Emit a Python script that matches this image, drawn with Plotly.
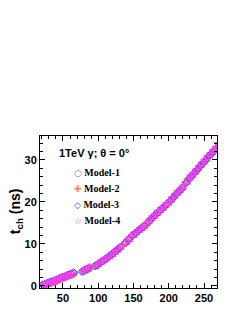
import plotly.graph_objects as go

# Model-1
m1_x = [22, 26, 30, 34, 38, 42, 46, 50, 54, 58, 62, 66, 78, 82, 86, 96, 100, 104, 108, 112, 116, 120, 124, 128, 132,
        140, 144, 150, 154, 158, 162, 166, 172, 176, 180, 184, 188, 192, 196, 204, 208, 212, 216, 220, 226, 230,
        234, 238, 242, 246, 250, 254, 258, 262, 266, 270]
m1_y = [0.2, 0.4, 0.6, 0.9, 1.1, 1.4, 1.7, 1.9, 2.2, 2.5, 2.8, 3.0, 3.5, 3.9, 4.2, 4.8, 5.2, 5.7, 6.2, 6.6, 7.1, 7.6,
        8.2, 8.8, 9.3, 10.4, 11.2, 12.2, 12.8, 13.3, 13.8, 14.3, 15.4, 16.1, 16.8, 17.4, 18.1, 18.7, 19.3, 20.6,
        21.4, 22.2, 22.9, 23.5, 24.8, 25.9, 26.5, 27.3, 28.1, 28.9, 29.6, 30.3, 31.2, 31.9, 32.6, 33.4]
# Model-2
m2_x = [24, 28, 32, 36, 40, 44, 48, 52, 56, 60, 64, 80, 84, 88, 98, 102, 106, 110, 114, 118, 122, 126, 130, 138,
        142, 148, 152, 156, 160, 164, 168, 174, 178, 182, 186, 190, 194, 198, 202, 206, 210, 214, 218, 224, 228,
        232, 236, 240, 244, 248, 252, 256, 260, 264, 268]
m2_y = [0.1, 0.4, 0.7, 0.9, 1.2, 1.5, 1.8, 2.0, 2.3, 2.6, 2.8, 3.6, 3.9, 4.3, 4.9, 5.4, 5.9, 6.3, 6.8, 7.3, 7.8, 8.4,
        8.9, 10.2, 10.9, 12.0, 12.5, 13.0, 13.6, 14.1, 14.6, 15.7, 16.4, 17.0, 17.7, 18.3, 18.9, 19.6, 20.1, 21.0,
        21.8, 22.4, 23.1, 24.5, 25.3, 26.1, 26.8, 27.6, 28.4, 29.2, 29.9, 30.8, 31.4, 32.3, 33.0]
# Model-3
m3_x = [21, 25, 29, 33, 37, 41, 45, 49, 53, 57, 61, 65, 77, 81, 85, 95, 99, 103, 107, 111, 115, 119, 123, 127, 131,
        139, 143, 149, 153, 157, 161, 165, 171, 175, 179, 183, 187, 191, 195, 203, 207, 211, 215, 219, 225, 229,
        233, 237, 241, 245, 249, 253, 257, 261, 265]
m3_y = [0.3, 0.5, 0.8, 1.0, 1.3, 1.5, 1.8, 2.1, 2.3, 2.6, 2.9, 3.2, 3.4, 3.8, 4.1, 4.7, 5.1, 5.6, 6.0, 6.5, 7.0, 7.5,
        8.1, 8.6, 9.2, 10.3, 11.0, 12.0, 12.6, 13.2, 13.7, 14.2, 15.2, 15.9, 16.6, 17.2, 17.9, 18.5, 19.1, 20.4,
        21.1, 21.9, 22.6, 23.2, 24.6, 25.6, 26.2, 27.0, 27.8, 28.6, 29.4, 30.0, 30.9, 31.6, 32.3]
# Model-4
m4_x = [23, 27, 31, 35, 39, 43, 47, 51, 55, 59, 63, 79, 83, 87, 97, 101, 105, 109, 113, 117, 121, 125, 129, 133,
        141, 145, 151, 155, 159, 163, 167, 173, 177, 181, 185, 189, 193, 197, 201, 205, 209, 213, 217, 221, 227,
        231, 235, 239, 243, 247, 251, 255, 259, 263, 267, 270]
m4_y = [0.2, 0.5, 0.7, 1.0, 1.2, 1.5, 1.8, 2.0, 2.3, 2.6, 2.9, 3.6, 4.0, 4.3, 4.9, 5.3, 5.8, 6.3, 6.7, 7.2, 7.7, 8.3,
        8.9, 9.5, 10.6, 11.3, 12.3, 12.9, 13.4, 13.9, 14.5, 15.6, 16.3, 16.9, 17.6, 18.2, 18.8, 19.5, 20.0, 20.8,
        21.6, 22.3, 23.0, 23.7, 25.0, 26.0, 26.7, 27.5, 28.3, 29.1, 29.8, 30.6, 31.3, 32.1, 32.8, 33.8]

names = ["Model-1", "Model-2", "Model-3", "Model-4"]
xs = [m1_x, m2_x, m3_x, m4_x]
ys = [m1_y, m2_y, m3_y, m4_y]
symbols = ["circle-open", "cross-open", "diamond-open", "star-open"]
legend_glyphs = ["○", "✙", "◇", "☆"]
colors = ["#7070ff", "#ff5c5c", "#3c3cff", "#ff3cff"]

x_ticks = [50, 100, 150, 200, 250]
y_ticks = [0, 10, 20, 30]

fig = go.Figure()
for n, x, y, s, c in zip(names, xs, ys, symbols, colors):
    fig.add_trace(go.Scatter(x=x, y=y, mode="markers", name=n, showlegend=False,
                             marker=dict(symbol=s, size=6, color=c, line=dict(color=c, width=1))))

tickfont = dict(family="Liberation Sans", size=11, color="black", weight="bold")
axis_common = dict(showgrid=False, zeroline=False, showline=True, linecolor="black", linewidth=1,
                   mirror="ticks", ticks="inside", ticklen=5, tickcolor="black", tickfont=tickfont,
                   minor=dict(ticks="inside", ticklen=3, tickcolor="black"))
fig.update_xaxes(range=[17.4, 268.4], tickvals=x_ticks, minor_dtick=10, **axis_common)
fig.update_yaxes(range=[-0.5, 35.7], tickvals=y_ticks, minor_dtick=2, **axis_common)

fig.add_annotation(xref="paper", yref="paper", x=0.096, y=0.888, xanchor="left", yanchor="middle",
                   text="1TeV γ; θ = 0°", showarrow=False,
                   font=dict(family="Liberation Sans", size=11, color="black", weight="bold"))
fig.add_annotation(xref="paper", yref="paper", x=-0.134, y=0.507, xanchor="center", yanchor="middle",
                   text="t<sub>ch</sub> (ns)", textangle=-90, showarrow=False,
                   font=dict(family="Liberation Sans", size=14, color="black", weight="bold"))

# legend drawn as text rows
for i, (n, g, c) in enumerate(zip(names, legend_glyphs, colors)):
    fig.add_annotation(xref="paper", yref="paper", x=0.18, y=0.757 - 0.105 * i,
                       xanchor="left", yanchor="middle", showarrow=False,
                       text=f'<span style="color:{c};font-family:DejaVu Sans;font-weight:normal;font-size:9px">{g}</span> {n}',
                       font=dict(family="Liberation Serif", size=10, color="black", weight="bold"))

fig.update_layout(
    width=239, height=311,
    margin=dict(l=32, r=30, t=128, b=31),
    paper_bgcolor="white", plot_bgcolor="white",
    showlegend=False,
)

fig.write_html("out.html")
